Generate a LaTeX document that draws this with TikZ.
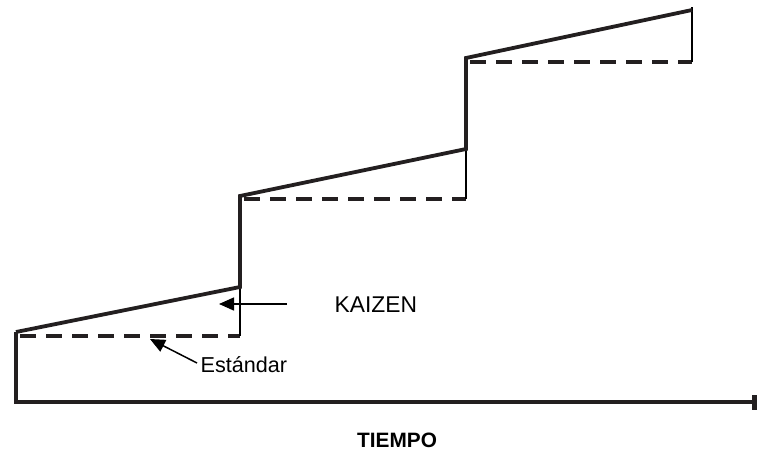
\documentclass[tikz,border=0pt]{standalone}
\usepackage{fontspec}
\setmainfont{Liberation Sans}
\usetikzlibrary{arrows.meta}
\definecolor{ink}{RGB}{35,31,32}
\begin{document}
\begin{tikzpicture}[x=1pt,y=-1pt,
  thick line/.style={draw=ink,line width=3.8pt,line join=miter},
  thin line/.style={draw=black,line width=1.8pt},
  std line/.style={draw=ink,line width=3.8pt,dash pattern=on 16pt off 10pt,dash phase=-4pt},
  pointer/.style={draw=black,line width=1.5pt,-{Triangle[length=15pt,width=13pt]}},
  lbl/.style={inner sep=0pt,anchor=base west,text=black}]
\useasboundingbox (0,0) rectangle (759,450);
% corner coordinates
\coordinate (o) at (16,402);
\coordinate (a0) at (16,332);
\coordinate (a1) at (240,287);
\coordinate (s1) at (240,336);
\coordinate (b0) at (240,196);
\coordinate (b1) at (466,149);
\coordinate (s2) at (466,199);
\coordinate (c0) at (466,58);
\coordinate (c1) at (692,10);
\coordinate (s3) at (692,62);
\coordinate (c1t) at (692,7);
\coordinate (axisend) at (757,402);
% standards (dashed)
\draw[std line] (16,336) -- (s1);
\draw[std line] (b0 |- s2) -- (s2);
\draw[std line] (c0 |- s3) -- (s3);
% thin verticals
\draw[thin line] (a1) -- (s1);
\draw[thin line] (b1) -- (s2);
\draw[thin line] (c1t) -- (s3);
% axis
\draw[thick line,-{Rectangle[length=5pt,width=15pt]}] (a0) -- (o) -- (axisend);
% kaizen steps
\draw[thick line] (a0) -- (a1) -- (b0) -- (b1) -- (c0) -- (c1);
% labels
\node[lbl,font=\fontsize{22.8}{26}\selectfont] (kaizen) at (334.5,312) {KAIZEN};
\node[lbl,font=\fontsize{21.6}{24}\selectfont] (std) at (200.5,372) {Estándar};
\node[lbl,font=\fontsize{20.8}{24}\selectfont\bfseries] (tiempo) at (357,447) {TIEMPO};
% pointers
\coordinate (kstart) at (287,304);
\coordinate (ktip) at (219,304);
\coordinate (sstart) at (197,363);
\coordinate (stip) at (150,339);
\draw[pointer] (kstart) -- (ktip);
\draw[pointer] (sstart) -- (stip);
\end{tikzpicture}
\end{document}
